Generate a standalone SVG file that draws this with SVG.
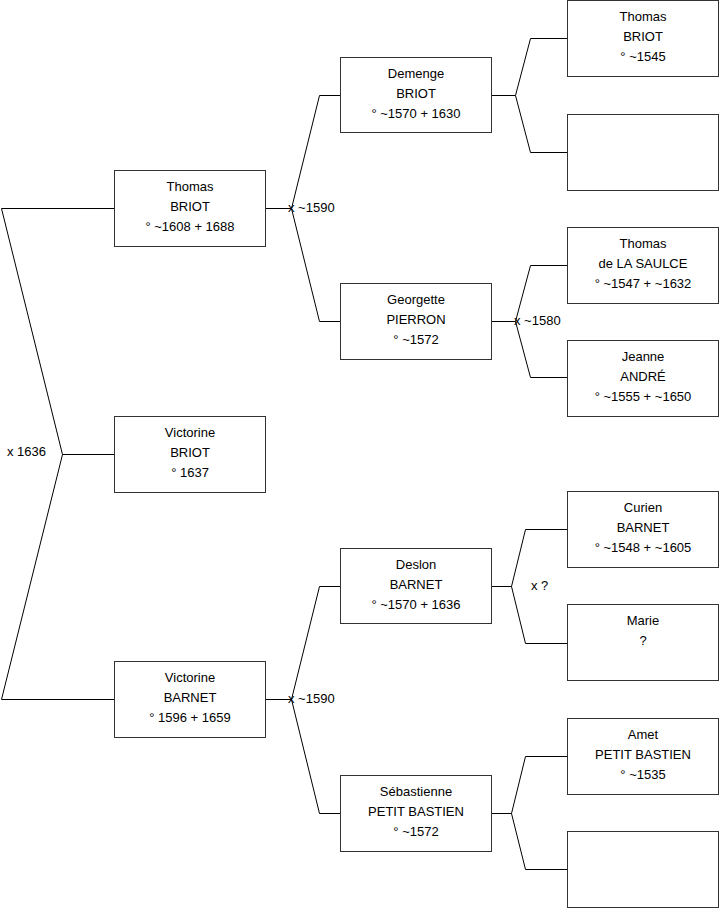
<svg xmlns="http://www.w3.org/2000/svg" width="719" height="908" viewBox="0 0 719 908">
<style>
.box{fill:#fff;stroke:#333;stroke-width:1}
.ln{fill:none;stroke:#000;stroke-width:1}
text{font-family:"Liberation Sans",Arial,sans-serif;font-size:13px;fill:#000}
.c{text-anchor:middle}
</style>
<rect width="719" height="908" fill="#fff"/>
<g id="connectors">
<polyline class="ln" points="114,208.5 1.5,208.5 62.5,454.5 1.5,699.5 114,699.5"/>
<line class="ln" x1="62.5" y1="454.5" x2="114" y2="454.5"/>
<polyline class="ln" points="340,95.5 319.5,95.5 291.5,208.5 319.5,321.5 340,321.5"/>
<line class="ln" x1="265" y1="208.5" x2="291.5" y2="208.5"/>
<polyline class="ln" points="340,586.5 319.5,586.5 291.5,699.5 319.5,813.5 340,813.5"/>
<line class="ln" x1="265" y1="699.5" x2="291.5" y2="699.5"/>
<polyline class="ln" points="567,38.5 530.5,38.5 515.5,95.5 530.5,152.5 567,152.5"/>
<line class="ln" x1="491" y1="95.5" x2="515.5" y2="95.5"/>
<polyline class="ln" points="567,265.5 530.5,265.5 515.5,321.5 530.5,377.5 567,377.5"/>
<line class="ln" x1="491" y1="321.5" x2="515.5" y2="321.5"/>
<polyline class="ln" points="567,529.5 525.5,529.5 511.5,586.5 525.5,643.5 567,643.5"/>
<line class="ln" x1="491" y1="586.5" x2="511.5" y2="586.5"/>
<polyline class="ln" points="567,756.5 525.5,756.5 511.5,813.5 525.5,869.5 567,869.5"/>
<line class="ln" x1="491" y1="813.5" x2="511.5" y2="813.5"/>
<text x="7" y="456">x 1636</text>
<text x="288" y="212">x ~1590</text>
<text x="288" y="703">x ~1590</text>
<text x="514" y="325">x ~1580</text>
<text x="531" y="590">x ?</text>
</g>
<g id="thomas-briot-1608">
<rect class="box" x="114.5" y="170.5" width="151" height="76"/>
<text class="c" x="190" y="191">Thomas</text>
<text class="c" x="190" y="211">BRIOT</text>
<text class="c" x="190" y="231">° ~1608 + 1688</text>
</g>
<g id="victorine-briot">
<rect class="box" x="114.5" y="416.5" width="151" height="76"/>
<text class="c" x="190" y="437">Victorine</text>
<text class="c" x="190" y="457">BRIOT</text>
<text class="c" x="190" y="477">° 1637</text>
</g>
<g id="victorine-barnet">
<rect class="box" x="114.5" y="661.5" width="151" height="76"/>
<text class="c" x="190" y="682">Victorine</text>
<text class="c" x="190" y="702">BARNET</text>
<text class="c" x="190" y="722">° 1596 + 1659</text>
</g>
<g id="demenge-briot">
<rect class="box" x="340.5" y="57.5" width="151" height="75"/>
<text class="c" x="416" y="78">Demenge</text>
<text class="c" x="416" y="98">BRIOT</text>
<text class="c" x="416" y="118">° ~1570 + 1630</text>
</g>
<g id="georgette-pierron">
<rect class="box" x="340.5" y="283.5" width="151" height="76"/>
<text class="c" x="416" y="304">Georgette</text>
<text class="c" x="416" y="324">PIERRON</text>
<text class="c" x="416" y="344">° ~1572</text>
</g>
<g id="deslon-barnet">
<rect class="box" x="340.5" y="548.5" width="151" height="75"/>
<text class="c" x="416" y="569">Deslon</text>
<text class="c" x="416" y="589">BARNET</text>
<text class="c" x="416" y="609">° ~1570 + 1636</text>
</g>
<g id="sebastienne-petit-bastien">
<rect class="box" x="340.5" y="775.5" width="151" height="76"/>
<text class="c" x="416" y="796">Sébastienne</text>
<text class="c" x="416" y="816">PETIT BASTIEN</text>
<text class="c" x="416" y="836">° ~1572</text>
</g>
<g id="thomas-briot-1545">
<rect class="box" x="567.5" y="0.5" width="151" height="76"/>
<text class="c" x="643" y="21">Thomas</text>
<text class="c" x="643" y="41">BRIOT</text>
<text class="c" x="643" y="61">° ~1545</text>
</g>
<g id="unknown-1">
<rect class="box" x="567.5" y="114.5" width="151" height="76"/>
</g>
<g id="thomas-de-la-saulce">
<rect class="box" x="567.5" y="227.5" width="151" height="76"/>
<text class="c" x="643" y="248">Thomas</text>
<text class="c" x="643" y="268">de LA SAULCE</text>
<text class="c" x="643" y="288">° ~1547 + ~1632</text>
</g>
<g id="jeanne-andre">
<rect class="box" x="567.5" y="340.5" width="151" height="76"/>
<text class="c" x="643" y="361">Jeanne</text>
<text class="c" x="643" y="381">ANDRÉ</text>
<text class="c" x="643" y="401">° ~1555 + ~1650</text>
</g>
<g id="curien-barnet">
<rect class="box" x="567.5" y="491.5" width="151" height="76"/>
<text class="c" x="643" y="512">Curien</text>
<text class="c" x="643" y="532">BARNET</text>
<text class="c" x="643" y="552">° ~1548 + ~1605</text>
</g>
<g id="marie">
<rect class="box" x="567.5" y="604.5" width="151" height="76"/>
<text class="c" x="643" y="625">Marie</text>
<text class="c" x="643" y="645">?</text>
</g>
<g id="amet-petit-bastien">
<rect class="box" x="567.5" y="718.5" width="151" height="76"/>
<text class="c" x="643" y="739">Amet</text>
<text class="c" x="643" y="759">PETIT BASTIEN</text>
<text class="c" x="643" y="779">° ~1535</text>
</g>
<g id="unknown-2">
<rect class="box" x="567.5" y="831.5" width="151" height="76"/>
</g>
</svg>
